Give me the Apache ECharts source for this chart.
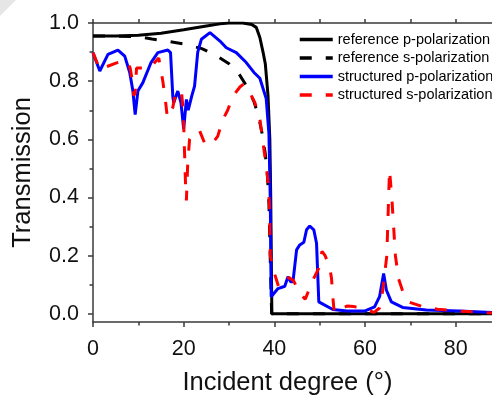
<!DOCTYPE html>
<html>
<head>
<meta charset="utf-8">
<script src="https://cdn.jsdelivr.net/npm/echarts@6/dist/echarts.min.js"></script>
<style>html,body{margin:0;padding:0;background:#fff}#c{width:492px;height:395px}</style>
</head>
<body>
<div id="c"></div>
<script>
// ---- data ----
const refP_angle = [0, 5, 10, 15, 20, 25, 28, 30, 33, 35, 36, 36.8, 37.5, 38, 38.6, 39, 39.2, 39.35, 39.45, 50, 60, 70, 80, 88];
const refP_T     = [0.955, 0.955, 0.958, 0.965, 0.977, 0.99, 0.997, 1.0, 1.0, 0.995, 0.985, 0.95, 0.9, 0.86, 0.75, 0.6, 0.4, 0.15, 0, 0, 0, 0, 0, 0];

const refS_angle = [0, 5, 10, 13, 16, 20, 24, 27, 30, 32, 34, 35.5, 36.5, 37.3, 38, 38.5, 38.8, 39.0, 39.2, 39.4, 50, 88];
const refS_T     = [0.955, 0.955, 0.953, 0.945, 0.938, 0.928, 0.912, 0.89, 0.86, 0.83, 0.78, 0.73, 0.68, 0.62, 0.55, 0.47, 0.38, 0.25, 0.12, 0, 0, 0];

const strP_angle = [0, 1.5, 3.3, 5.5, 7, 8.1, 8.8, 9.3, 9.9, 11, 12.8, 14.3, 16.5, 17.1, 17.6, 17.8, 18.7, 19.4, 20.0, 20.6, 21.0, 21.8, 22.4, 23.1, 23.9, 25.8, 28, 29.4, 31.6, 33.8, 35.5, 36.8, 38.2, 38.8, 39.1, 39.3, 40.8, 42.3, 43, 43.6, 44.1, 44.9, 45.6, 46.5, 47.1, 47.8, 48.7, 49.3, 49.8, 50.4, 52.9, 56, 60, 62.1, 63.2, 64.1, 64.7, 65.8, 68.3, 73.5, 80.8, 88];
const strP_T     = [0.898, 0.835, 0.892, 0.907, 0.886, 0.83, 0.766, 0.685, 0.766, 0.795, 0.864, 0.898, 0.907, 0.898, 0.748, 0.726, 0.766, 0.726, 0.635, 0.737, 0.70, 0.75, 0.783, 0.9, 0.944, 0.967, 0.938, 0.915, 0.898, 0.864, 0.83, 0.81, 0.74, 0.62, 0.39, 0.059, 0.087, 0.095, 0.128, 0.11, 0.11, 0.22, 0.237, 0.246, 0.289, 0.302, 0.289, 0.243, 0.041, 0.036, 0.015, 0.01, 0.01, 0.024, 0.059, 0.139, 0.082, 0.041, 0.022, 0.013, 0.01, 0.005];

const strS_angle = [0, 1.5, 3, 5.2, 7.5, 8.2, 8.7, 9.0, 9.3, 9.6, 10.5, 12.5, 14.5, 15.4, 16.0, 16.4, 17.6, 18.3, 19.5, 19.9, 20.1, 20.4, 20.6, 20.9, 21.3, 22, 23.5, 24.8, 26.5, 27.5, 28.6, 29.7, 30.8, 32.4, 33.2, 34, 35.7, 36.8, 37.4, 38.0, 38.5, 38.9, 39.1, 40.0, 41.0, 43.2, 44.2, 45.0, 46.0, 46.8, 48.5, 49.8, 50.5, 51.2, 52.2, 52.6, 52.9, 53.2, 56, 57.5, 59.2, 62, 63.2, 63.9, 64.8, 65.2, 65.4, 65.9, 66.3, 66.7, 67.4, 68.7, 69.8, 73, 76, 80, 85, 88];
const strS_T     = [0.898, 0.84, 0.85, 0.863, 0.87, 0.845, 0.80, 0.75, 0.76, 0.845, 0.845, 0.845, 0.88, 0.80, 0.73, 0.675, 0.71, 0.765, 0.765, 0.70, 0.6, 0.45, 0.39, 0.52, 0.6, 0.62, 0.63, 0.58, 0.59, 0.61, 0.667, 0.70, 0.747, 0.78, 0.79, 0.78, 0.726, 0.67, 0.6, 0.53, 0.47, 0.38, 0.2, 0.14, 0.09, 0.125, 0.115, 0.09, 0.065, 0.05, 0.116, 0.157, 0.215, 0.2, 0.16, 0.123, 0.058, 0.005, 0.027, 0.025, 0.02, 0.005, 0.02, 0.08, 0.2, 0.4, 0.495, 0.4, 0.3, 0.2, 0.12, 0.06, 0.04, 0.023, 0.016, 0.01, 0.006, 0.003];

const seriesNames = ['reference p-polarization', 'reference s-polarization', 'structured p-polarization', 'structured s-polarization'];
const yMajor = [0, 0.2, 0.4, 0.6, 0.8, 1.0];
const yMinor = [0.1, 0.3, 0.5, 0.7, 0.9];
const xMajor = [0, 20, 40, 60, 80];
const xMinor = [10, 30, 50, 70];
const xTop = [0, 10, 20, 30, 40, 50, 60, 70, 80];

function pairs(a, b) { return a.map((v, i) => [v, b[i]]); }

const axisColor = '#3a3a3a';
const font = 'Liberation Sans, Arial, sans-serif';
const chart = echarts.init(document.getElementById('c'), null, { renderer: 'canvas' });
const dash = [12, 14];

chart.setOption({
  animation: false,
  backgroundColor: '#fff',
  graphic: [{ type: 'polygon', shape: { points: [[0, 0], [16, 0], [0, 16]] }, style: { fill: '#e6e6e6' }, z: -1 }],
  grid: { left: 93, top: 23, right: 0, bottom: 73, containLabel: false, outerBoundsMode: 'none' },
  legend: {
    orient: 'vertical', left: 298, top: 32, padding: 0, itemWidth: 33, itemHeight: 14, itemGap: 3.5,
    itemStyle: { opacity: 0 },
    lineStyle: { width: 3.5 },
    textStyle: { fontFamily: font, fontSize: 14.5, color: '#000' },
    data: seriesNames
  },
  xAxis: [
    { type: 'value', position: 'bottom', min: 0, max: 88,
      name: 'Incident degree (°)', nameLocation: 'middle', nameGap: 48,
      nameTextStyle: { fontFamily: font, fontSize: 25.5, color: '#111', padding: [0, 10, 0, 0] },
      axisLine: { show: true, onZero: false, lineStyle: { color: axisColor, width: 1.5 } },
      axisTick: { show: true, inside: false, length: 5, customValues: xMajor, lineStyle: { color: axisColor, width: 1.5 } },
      axisLabel: { customValues: xMajor, margin: 16, fontFamily: font, fontSize: 21.5, color: '#111' },
      splitLine: { show: false } },
    { type: 'value', position: 'top', min: 0, max: 88,
      axisLine: { show: true, onZero: false, lineStyle: { color: axisColor, width: 1.5 } },
      axisTick: { show: true, length: 4, customValues: xTop, lineStyle: { color: axisColor, width: 1.5 } },
      axisLabel: { show: false }, splitLine: { show: false } },
    { type: 'value', position: 'bottom', min: 0, max: 88,
      axisLine: { show: false, onZero: false },
      axisTick: { show: true, length: 3.5, customValues: xMinor, lineStyle: { color: axisColor, width: 1.5 } },
      axisLabel: { show: false }, splitLine: { show: false } }
  ],
  yAxis: [
    { type: 'value', position: 'left', min: -0.028, max: 1.0,
      name: 'Transmission', nameLocation: 'middle', nameGap: 57,
      nameTextStyle: { fontFamily: font, fontSize: 25.5, color: '#111' },
      axisLine: { show: true, onZero: false, lineStyle: { color: axisColor, width: 1.5 } },
      axisTick: { show: true, length: 5, customValues: yMajor, lineStyle: { color: axisColor, width: 1.5 } },
      axisLabel: { customValues: yMajor, margin: 14, fontFamily: font, fontSize: 21.5, color: '#111', formatter: v => v.toFixed(1) },
      splitLine: { show: false } },
    { type: 'value', position: 'left', min: -0.028, max: 1.0,
      axisLine: { show: false, onZero: false },
      axisTick: { show: true, length: 3.5, customValues: yMinor, lineStyle: { color: axisColor, width: 1.5 } },
      axisLabel: { show: false }, splitLine: { show: false } }
  ],
  series: [
    { name: seriesNames[0], type: 'line', data: pairs(refP_angle, refP_T), symbol: 'none', smooth: false,
      lineStyle: { color: '#000', width: 3 }, itemStyle: { color: '#000' } },
    { name: seriesNames[1], type: 'line', data: pairs(refS_angle, refS_T), symbol: 'none',
      lineStyle: { color: '#000', width: 3, type: dash }, itemStyle: { color: '#000' } },
    { name: seriesNames[2], type: 'line', data: pairs(strP_angle, strP_T), symbol: 'none',
      lineStyle: { color: '#0000ff', width: 3 }, itemStyle: { color: '#0000ff' } },
    { name: seriesNames[3], type: 'line', data: pairs(strS_angle, strS_T), symbol: 'none',
      lineStyle: { color: '#ff0000', width: 3, type: dash }, itemStyle: { color: '#ff0000' } }
  ]
});
</script>
</body>
</html>
